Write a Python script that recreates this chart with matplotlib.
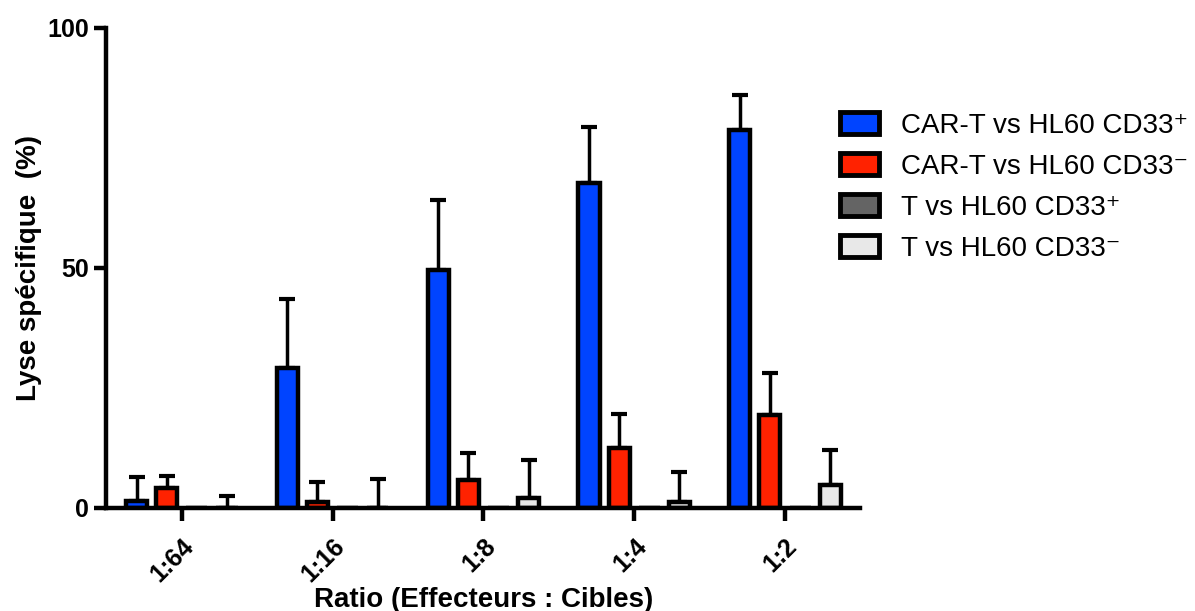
import numpy as np
import matplotlib.pyplot as plt
from matplotlib.patches import Patch

plt.rcParams['font.family'] = ['Liberation Sans', 'DejaVu Sans']

ratios = ["1:64", "1:16", "1:8", "1:4", "1:2"]
series = ["CAR-T vs HL60 CD33\u207a", "CAR-T vs HL60 CD33\u207b",
          "T vs HL60 CD33\u207a", "T vs HL60 CD33\u207b"]
colors = ["#0044ff", "#ff2200", "#646464", "#e8e8e8"]

cart_pos = [1.5, 29.2, 49.6, 67.7, 78.8]
cart_pos_err = [4.9, 14.3, 14.6, 11.7, 7.2]
cart_neg = [4.2, 1.2, 5.8, 12.5, 19.4]
cart_neg_err = [2.5, 4.2, 5.7, 7.1, 8.7]
t_pos = [0, 0, 0, 0, 0]
t_pos_err = [0, 0, 0, 0, 0]
t_neg = [0, 0, 2.0, 1.2, 4.8]
t_neg_err = [2.5, 6.0, 8.0, 6.3, 7.3]

values = [cart_pos, cart_neg, t_pos, t_neg]
errors = [cart_pos_err, cart_neg_err, t_pos_err, t_neg_err]

fig = plt.figure(figsize=(11.95, 6.11), dpi=100)
ax = fig.add_axes([0.089, 0.1686, 0.631, 0.786])

x = np.arange(len(ratios))
step = 0.2
width = 0.14
for i, (vals, errs) in enumerate(zip(values, errors)):
    pos = x + (i - 1.5) * step
    ax.bar(pos, vals, width, color=colors[i], edgecolor="black", linewidth=3.2, zorder=2)
    e = np.array(errs)
    mask = e > 0
    ax.errorbar(pos[mask], np.array(vals)[mask], yerr=[np.zeros(mask.sum()), e[mask]],
                fmt="none", ecolor="black", elinewidth=2.5, capsize=6, capthick=3, zorder=1)

ax.set_xlim(-0.5, 4.5)
ax.set_ylim(0, 100)
ax.set_yticks([0, 50, 100])
ax.set_xticks(x)
ax.set_xticklabels(ratios, rotation=45, ha="right", rotation_mode="anchor")
for s in ["top", "right"]:
    ax.spines[s].set_visible(False)
for s in ["left", "bottom"]:
    ax.spines[s].set_linewidth(3.2)
ax.tick_params(width=3.2, length=9, labelsize=18)
ax.tick_params(axis="x", pad=10)
for lab in ax.get_xticklabels() + ax.get_yticklabels():
    lab.set_fontweight("bold")

ax.set_ylabel("Lyse spécifique  (%)", fontsize=20, fontweight="bold", labelpad=4)
ax.set_xlabel("Ratio (Effecteurs : Cibles)", fontsize=20, fontweight="bold", labelpad=0)

handles = [Patch(facecolor=c, edgecolor="black", linewidth=3.5) for c in colors]
fig.legend(handles, series, loc="upper left", bbox_to_anchor=(0.703, 0.817),
           frameon=False, fontsize=20, handlelength=1.4, handleheight=0.85,
           handletextpad=0.8, labelspacing=0.52, borderpad=0, borderaxespad=0)

fig.savefig("out.png", dpi=100)
